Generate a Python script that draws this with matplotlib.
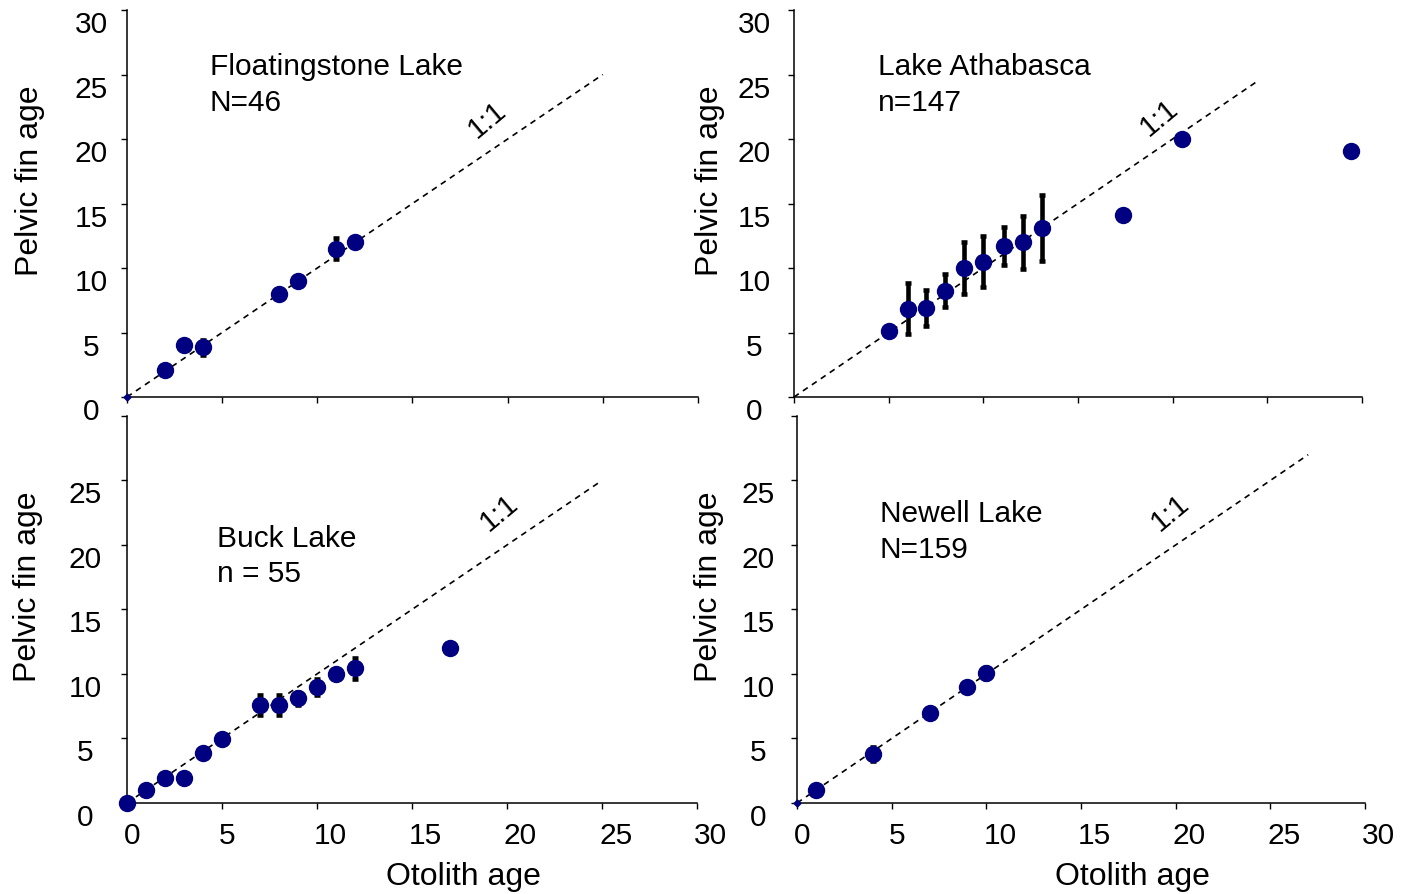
import numpy as np
import matplotlib
matplotlib.use("Agg")
import matplotlib.pyplot as plt
from matplotlib.transforms import ScaledTranslation

plt.rcParams['font.family'] = ['Liberation Sans', 'DejaVu Sans']

# Floatingstone Lake
fl_x = [2, 3, 4, 8, 9, 11, 12]
fl_y = [2.1, 4.0, 3.85, 8.0, 9.0, 11.5, 12.0]
fl_err = [0.4, 0, 0.6, 0, 0, 0.8, 0]

# Lake Athabasca
ath_x = [5, 6, 7, 8, 9, 10, 11.1, 12.1, 13.1, 17.4, 20.5, 29.4]
ath_y = [5.1, 6.85, 6.9, 8.25, 10.0, 10.5, 11.7, 12.0, 13.1, 14.1, 20.0, 19.1]
ath_err = [0, 2.0, 1.4, 1.3, 2.0, 2.0, 1.5, 2.05, 2.55, 0, 0, 0]

# Buck Lake
buck_x = [0, 1, 2, 3, 4, 5, 7, 8, 9, 10, 11, 12, 17]
buck_y = [0, 1.0, 1.95, 1.95, 3.9, 4.95, 7.6, 7.6, 8.1, 9.0, 10.0, 10.45, 12.0]
buck_err = [0, 0, 0, 0, 0, 0, 0.75, 0.8, 0.5, 0.65, 0, 0.8, 0]

# Newell Lake
new_x = [1, 4, 7, 9, 10]
new_y = [1.0, 3.8, 7.0, 9.0, 10.1]
new_err = [0, 0.55, 0, 0, 0.45]

# tiny dot at the origin in two of the panels
origin_x = [0]
origin_y = [0]

ticks = [0, 5, 10, 15, 20, 25, 30]

NAVY = '#000080'

fig = plt.figure(figsize=(14.03, 8.94), dpi=100)

panels = [
    dict(x=fl_x, y=fl_y, e=fl_err, rect=[0.0905, 0.5559, 0.4070, 0.4329],
         txt="Floatingstone Lake\nN=46", tpos=(4.36, 24.2), lend=25, lpos=(18.9, 21.5),
         ypad=21.5, xlab=False, ylx=-0.17, dot=True, top=True),
    dict(x=ath_x, y=ath_y, e=ath_err, rect=[0.5659, 0.5559, 0.4048, 0.4329],
         txt="Lake Athabasca\nn=147", tpos=(4.44, 24.2), lend=24.5, lpos=(19.3, 21.6),
         ypad=24.5, xlab=False, ylx=-0.148, dot=False, top=True),
    dict(x=buck_x, y=buck_y, e=buck_err, rect=[0.0905, 0.1018, 0.4063, 0.4329],
         txt="Buck Lake\nn = 55", tpos=(4.74, 19.1), lend=25, lpos=(19.6, 22.5),
         ypad=26, xlab=True, ylx=-0.174, dot=False, top=False),
    dict(x=new_x, y=new_y, e=new_err, rect=[0.5681, 0.1018, 0.4048, 0.4329],
         txt="Newell Lake\nN=159", tpos=(4.38, 21.0), lend=27, lpos=(19.7, 22.5),
         ypad=24, xlab=True, ylx=-0.155, dot=True, top=False),
]

for p in panels:
    ax = fig.add_axes(p['rect'])
    ax.set_xlim(0, 30)
    ax.set_ylim(0, 30)
    for s in ['top', 'right']:
        ax.spines[s].set_visible(False)
    for s in ['left', 'bottom']:
        ax.spines[s].set_linewidth(1.1)

    # 1:1 line
    ax.plot([0, p['lend']], [0, p['lend']], color='black', lw=1.2,
            linestyle=(0, (3.5, 3)), zorder=1)
    ax.text(p['lpos'][0], p['lpos'][1], "1:1", rotation=40, fontsize=21,
            ha='center', va='center')

    x = np.array(p['x'])
    y = np.array(p['y'])
    e = np.array(p['e'])
    m = e > 0
    ax.errorbar(x[m], y[m], yerr=e[m], fmt='none', ecolor='black',
                elinewidth=3.3, capsize=2.2, capthick=3.3, zorder=2)
    ax.plot(x, y, linestyle='none', marker='o', ms=11.5, mfc=NAVY, mec=NAVY,
            mew=1, zorder=3, clip_on=False)
    if p['dot']:
        ax.plot(origin_x, origin_y, linestyle='none', marker='D', ms=3.5,
                color=NAVY, clip_on=False, zorder=3)

    ax.text(p['tpos'][0], p['tpos'][1], p['txt'], fontsize=21.5,
            ha='left', va='center', linespacing=1.35)

    ax.set_xticks(ticks)
    ax.set_yticks(ticks)
    ax.tick_params(axis='both', direction='out', length=4, width=1,
                   labelsize=21.5)
    ax.tick_params(axis='y', pad=p['ypad'])
    ylabels = [str(t) for t in ticks]
    if not p['top']:
        ylabels[-1] = ''
    ax.set_yticklabels(ylabels)
    off_y = ScaledTranslation(0, -12 / 100, fig.dpi_scale_trans)
    for lbl in ax.get_yticklabels():
        lbl.set_ha('center')
        lbl.set_transform(lbl.get_transform() + off_y)

    if p['xlab']:
        ax.set_xticklabels([str(t) for t in ticks])
        ax.tick_params(axis='x', pad=10)
        off_x = ScaledTranslation(-3 / 100, 0, fig.dpi_scale_trans)
        for lbl in ax.get_xticklabels():
            lbl.set_ha('left')
            lbl.set_transform(lbl.get_transform() + off_x)
        ax.set_xlabel("Otolith age", fontsize=23, va='center')
        ax.xaxis.set_label_coords(0.59, -0.19)
    else:
        ax.set_xticklabels([])

    ax.set_ylabel("Pelvic fin age", fontsize=23, va='center')
    ax.yaxis.set_label_coords(p['ylx'], 0.56)

fig.savefig("out.png", dpi=100)
